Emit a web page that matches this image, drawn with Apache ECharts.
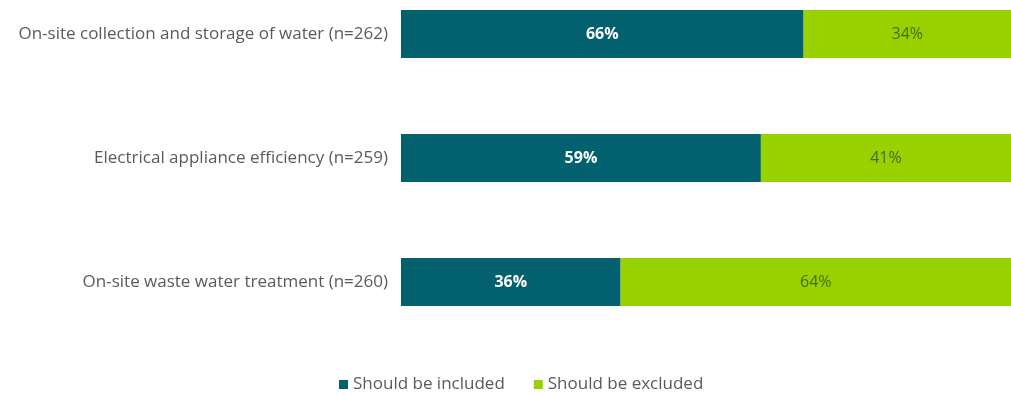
<!DOCTYPE html>
<html><head><meta charset="utf-8">
<script src="https://cdn.jsdelivr.net/npm/echarts@6/dist/echarts.min.js"></script>
<style>html,body{margin:0;padding:0;background:#fff}#c{width:1011px;height:396px}</style>
</head><body><div id="c"></div>
<script>
const categories = ["On-site collection and storage of water (n=262)", "Electrical appliance efficiency (n=259)", "On-site waste water treatment (n=260)"];
const included = [66, 59, 36];
const excluded = [34, 41, 64];
const seriesNames = ["Should be included", "Should be excluded"];

const chart = echarts.init(document.getElementById('c'));
chart.setOption({
  animation: false,
  grid: { left: 401, right: 0, top: 34, bottom: 114, containLabel: false },
  xAxis: { type: 'value', min: 0, max: 100, show: false },
  yAxis: {
    type: 'category', data: categories, inverse: true, boundaryGap: false,
    axisLine: { show: false }, axisTick: { show: false },
    axisLabel: { color: '#5a5a5a', fontSize: 17, fontFamily: 'Open Sans', margin: 13 }
  },
  legend: {
    top: 371, left: 334, itemWidth: 9, itemHeight: 9, itemGap: 29,
    icon: 'rect',
    textStyle: { color: '#5a5a5a', fontSize: 17, fontFamily: 'Open Sans' },
    data: seriesNames
  },
  series: [
    { name: seriesNames[0], type: 'bar', stack: 's', data: included, barWidth: 48,
      itemStyle: { color: '#03606f' },
      label: { show: true, position: 'inside', formatter: '{c}%', color: '#ffffff', fontSize: 16, fontWeight: 'bold', fontFamily: 'Open Sans' } },
    { name: seriesNames[1], type: 'bar', stack: 's', data: excluded, barWidth: 48,
      itemStyle: { color: '#97d100' },
      label: { show: true, position: 'inside', formatter: '{c}%', color: '#4a6a10', fontSize: 16, fontFamily: 'Open Sans' } }
  ]
});
</script></body></html>
